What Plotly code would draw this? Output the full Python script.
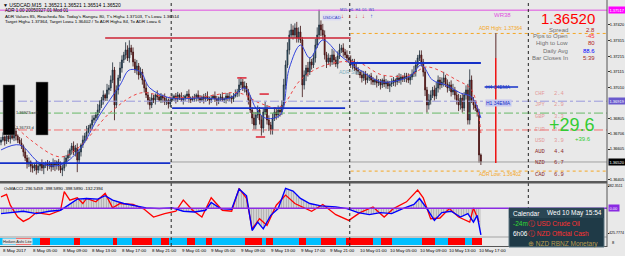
import plotly.graph_objects as go

W, H = 625, 256
def px(x): return x / W
def py(y): return 1 - y / H

# ---------------- DATA ----------------
first_open = 1.36650
closes = [
1.36664, 1.36684, 1.36658, 1.36691, 1.36671, 1.36704,
1.36677, 1.36723, 1.36691, 1.36664, 1.36645, 1.36625,
1.36586, 1.36546, 1.36507, 1.36520, 1.36493,
1.36480, 1.36500, 1.36467, 1.36493, 1.36507, 1.36480, 1.36500, 1.36513, 1.36493, 1.36507, 1.36487, 1.36513, 1.36500, 1.36520, 1.36493, 1.36467,
1.36480, 1.36520, 1.36546, 1.36566, 1.36599, 1.36625, 1.36586, 1.36612, 1.36533, 1.36586, 1.36632,
1.36664, 1.36691, 1.36717, 1.36743, 1.36763, 1.36796, 1.36809, 1.36828, 1.36861, 1.36894,
1.36927, 1.36960, 1.36940, 1.36993, 1.37006, 1.37058,
1.37124, 1.36894, 1.36993, 1.37072,
1.37137, 1.37190, 1.37223, 1.37256, 1.37203, 1.37269, 1.37242, 1.37177,
1.37124, 1.37150, 1.37091, 1.37111, 1.37058,
1.37006, 1.36960, 1.36927, 1.36894, 1.36940, 1.36927,
1.36960, 1.36947, 1.36927, 1.36953, 1.36940, 1.36914, 1.36927, 1.36901, 1.36927,
1.36940, 1.36953, 1.36934, 1.36960, 1.36947, 1.36927, 1.36940, 1.36953, 1.36966, 1.36940, 1.36927, 1.36934, 1.36947, 1.36960, 1.36940, 1.36927, 1.36947, 1.36934, 1.36953, 1.36940, 1.36927,
1.36940, 1.36953, 1.36934, 1.36920, 1.36940, 1.36947, 1.36927, 1.36934, 1.36953, 1.36940, 1.36947, 1.36934, 1.36953, 1.36966, 1.36980,
1.37026, 1.37045, 1.37006, 1.37019, 1.36980,
1.36927, 1.36861, 1.36809, 1.36763, 1.36828,
1.36861, 1.36796, 1.36743, 1.36848, 1.36874, 1.36796,
1.36763, 1.36730, 1.36809, 1.36848, 1.36828,
1.36861, 1.36848, 1.36894,
1.37026, 1.37157, 1.37256, 1.37354,
1.37387, 1.37354, 1.37400, 1.37334, 1.37374, 1.37321,
1.37026,
1.37091, 1.37137, 1.37111, 1.37177, 1.37157, 1.37203,
1.37288, 1.37354, 1.37420, 1.37387, 1.37354,
1.37223, 1.37177,
1.37203, 1.37177, 1.37223, 1.37190, 1.37164, 1.37216, 1.37256,
1.37269, 1.37242, 1.37223, 1.37203,
1.37190, 1.37157, 1.37177, 1.37137, 1.37124,
1.37111, 1.37091, 1.37072, 1.37098, 1.37058, 1.37072, 1.37085, 1.37058, 1.37045,
1.37058, 1.37039, 1.37045, 1.37026, 1.37058, 1.37032, 1.37045, 1.37019, 1.37032, 1.37039,
1.37058, 1.37045, 1.37072, 1.37058, 1.37078, 1.37065, 1.37085, 1.37072, 1.37058, 1.37078, 1.37098, 1.37111,
1.37157, 1.37203, 1.37223, 1.37177, 1.37111,
1.36993, 1.36894, 1.36927, 1.36960,
1.36993, 1.36953, 1.37006,
1.37058, 1.37026, 1.37045, 1.37072, 1.37032, 1.37006, 1.37026, 1.36980, 1.36993, 1.36960, 1.36927,
1.36894, 1.36940, 1.36874, 1.36960, 1.36993,
1.36796, 1.37058, 1.36927,
1.36894, 1.36874, 1.36848,
1.36566, 1.36520,
]
# wick extension beyond the body, in pips
hi_ext = [
2,3,1,2,4,2,1,3,2,1,2,3,1,2,2,3,1,2,1,3,
2,1,3,2,1,2,2,1,3,2,1,2,3,2,4,2,3,1,2,3,
2,3,2,1,3,2,4,2,1,3,2,2,4,3,2,3,1,4,2,3,
5,2,3,2,4,3,2,5,3,5,2,3,2,4,2,3,2,1,3,2,
2,3,2,1,3,2,2,1,3,2,1,2,3,1,2,2,1,3,2,1,
2,3,1,2,2,1,3,2,1,2,2,3,1,2,1,3,2,1,2,3,
1,2,2,3,1,2,3,2,4,3,2,3,2,2,3,2,4,2,3,2,
3,2,4,2,3,2,3,2,2,3,2,3,4,3,5,3,4,3,3,4,
3,4,2,3,2,4,3,2,3,4,5,10,3,4,3,2,3,2,4,3,
2,3,4,2,3,2,3,2,3,2,2,3,2,1,3,2,2,3,1,2,
2,1,3,2,2,1,3,2,1,2,3,2,1,2,3,2,1,2,2,3,
2,3,4,3,2,3,3,2,3,2,4,3,2,3,4,3,2,3,4,2,
3,2,3,4,2,3,4,2,3,2,3,4,7,3,2,3,2,2,1,
]
lo_ext = [
2,1,3,2,2,3,1,2,3,2,1,2,3,2,3,2,4,3,2,3,
2,3,2,4,2,3,2,3,2,4,3,3,2,4,2,3,2,2,3,2,
3,8,2,3,2,2,3,1,2,3,2,2,3,2,2,3,2,2,3,2,
2,10,2,3,2,3,2,3,2,3,2,3,2,3,3,2,3,3,2,3,
3,2,2,3,2,1,2,3,2,2,3,2,1,2,3,2,2,1,3,2,
2,3,2,1,2,3,2,2,1,3,2,2,3,2,1,2,3,2,2,1,
2,3,2,2,3,2,1,2,3,2,2,3,2,3,2,4,3,3,2,3,
5,3,2,3,4,3,3,2,3,2,3,2,2,3,2,3,2,3,2,3,
3,2,8,3,4,3,2,3,2,3,2,3,4,3,3,4,2,3,2,3,
2,3,2,2,3,2,3,2,2,3,2,3,2,2,3,2,3,2,2,3,
2,2,3,2,3,2,2,3,2,4,2,2,3,2,2,3,2,2,3,2,
3,2,2,3,2,2,3,3,4,5,3,3,2,3,2,3,3,2,3,2,
3,2,3,2,3,3,4,3,3,2,3,3,3,2,3,2,3,5,2,
]

fast_ma_bars = [0,10,21,32,42,53,64,69,75,80,91,107,123,131,137,142,150,155,161,166,173,182,193,205,220,226,232,239,247,253,258]
fast_ma_vals = [1.36599,1.36632,1.36513,1.36500,1.36599,1.36828,1.37026,1.37124,1.37111,1.37006,1.36940,1.36940,1.36940,1.37006,1.36874,1.36809,1.36828,1.37137,1.37288,1.37203,1.37321,1.37223,1.37124,1.37045,1.37085,1.37157,1.37058,1.37026,1.36973,1.36947,1.36809]
slow_ma_bars = [2,16,32,42,59,75,89,107,128,139,150,161,173,191,205,220,229,245,253,258]
slow_ma_vals = [1.36828,1.36664,1.36553,1.36618,1.36848,1.36973,1.36947,1.36947,1.36973,1.36907,1.36881,1.37058,1.37150,1.37177,1.37091,1.37091,1.37144,1.37058,1.36993,1.36710]

osc_red_bars = [0,3,5,9,12,15,19,26,32,34,37,41,44,46,51,56,60,64,71,77,82,88,94,98,103,108,113,119,124,128,132,135,139,143,148,153,158,167,173,180,187,193,200,206,211,218,224,227,231,236,241,246,252,254,257]
osc_red_vals = [197,238,52,-151,-226,-180,-75,-110,-35,284,139,180,81,168,110,255,6,81,64,-17,-151,-93,-52,139,-35,-151,180,-35,-52,342,168,-354,-180,-296,52,226,81,-52,64,-110,-209,-75,23,-151,-6,110,313,180,-180,-168,-6,-151,-238,6,-238]
osc_blue_bars = [0,5,12,19,26,32,36,41,46,52,56,60,66,72,78,85,92,98,104,110,113,118,124,128,132,135,138,141,145,149,153,157,161,166,172,180,186,192,198,204,210,216,222,225,229,233,237,242,247,251,254,256,258]
osc_blue_vals = [-93,-75,-52,-93,-52,-35,52,157,168,157,215,139,81,41,6,-6,6,-52,-64,-35,99,-6,-17,331,215,-383,-238,-354,-122,-6,342,296,168,81,41,23,-6,-75,-110,-75,-93,-6,64,168,-6,-209,-75,-52,-151,-93,-238,-122,-458]

ha_run_len = [9,8,5,5,13,3,18,2,8,11,5,4,10,4,6,3,18,9,2,4,14,4,8,8,5,15,4,6,16,7,7,9,4,5]
ha_run_dir = ['up','dn','up','dn','up','dn','up','dn','up','dn','up','dn','up','dn','up','dn','up','dn','up','dn','up','dn','up','dn','up','dn','up','dn','up','dn','up','dn','up','dn']

price_ticks = [1.37420, 1.37315, 1.37215, 1.37115, 1.37010, 1.36805, 1.36706, 1.36605, 1.36405]
osc_ticks = [382.3511, -425.7774]
osc_tick_text = ["382.3511", "-425.7774"]

time_label_bars = [0,16,32,48,64,80,96,112,128,144,160,176,192,208,224,240,256]
time_labels = ["8 May 2017","8 May 05:00","8 May 09:00","8 May 13:00","8 May 17:00","8 May 21:00",
               "9 May 01:00","9 May 05:00","9 May 09:00","9 May 13:00","9 May 17:00","9 May 21:00",
               "10 May 01:00","10 May 05:00","10 May 09:00","10 May 13:00","10 May 17:00"]
day_separators = [91.5, 187.5, 283.5]

wr38_level = 1.37517
red_level = 1.37334
adr_high_level = 1.37364
adr_low_level = 1.36460
blue_levels = [1.37170, 1.36874, 1.36513]
blue_level_spans = [(188, 258), (92, 185), (-1, 91)]
current_price = 1.36520
pivot_lavender = 1.36919
pivot_green = 1.36841
pivot_salmon = 1.36730

info_labels = ["Spread", "Pips to Open", "High to Low", "Daily Avg", "Bar Closes In"]
info_values = ["2.8", "-45", "80", "88.6", "5:39"]
currencies = ["CHF", "JPY", "GBP", "EUR", "USD", "AUD", "NZD", "CAD"]
strengths = ["2.4", "2.9", "3.3", "3.6", "3.9", "4.4", "6.7", "6.9"]

# ---------------- BUILD ----------------
n = min(len(closes), len(hi_ext), len(lo_ext))
closes = closes[:n]
bars = list(range(n))
opens = [first_open] + closes[:-1]
highs = [max(o, c) + e * 0.0001 for o, c, e in zip(opens, closes, hi_ext)]
lows = [min(o, c) - e * 0.0001 for o, c, e in zip(opens, closes, lo_ext)]

ha_colors = []
for L, d in zip(ha_run_len, ha_run_dir):
    ha_colors += ['#00BFFF' if d == 'up' else '#FF0000'] * L
ha_colors = ha_colors[:n]

FONT = "Liberation Sans, Arial, sans-serif"
BG = '#E9E9E9'
XR = [-0.54, 325.8]
XD = [0, 607 / W]
AXF = 4.0

fig = go.Figure()

fig.add_trace(go.Candlestick(
    x=bars, open=opens, high=highs, low=lows, close=closes,
    increasing=dict(line=dict(color='#1C2A36', width=0.8), fillcolor='#2E6A8A'),
    decreasing=dict(line=dict(color='#3A0E0E', width=0.8), fillcolor='#A01818'),
    whiskerwidth=0, xaxis='x', yaxis='y', showlegend=False, hoverinfo='skip'))
fig.add_trace(go.Scatter(x=slow_ma_bars, y=slow_ma_vals, mode='lines',
    line=dict(color='#EE4444', width=1, dash='dot', shape='spline'), xaxis='x', yaxis='y', showlegend=False))
fig.add_trace(go.Scatter(x=fast_ma_bars, y=fast_ma_vals, mode='lines',
    line=dict(color='#3344DD', width=1, shape='spline'), xaxis='x', yaxis='y', showlegend=False))

# oscillator
fig.add_trace(go.Scatter(x=osc_blue_bars, y=osc_blue_vals, mode='none', fill='tozeroy',
    fillcolor='rgba(190,190,190,0.45)',
    fillpattern=dict(shape='|', fgcolor='#777777', size=2.5, solidity=0.35),
    xaxis='x2', yaxis='y2', showlegend=False))
fig.add_trace(go.Scatter(x=osc_red_bars, y=osc_red_vals, mode='lines',
    line=dict(color='#FF0000', width=1.3), xaxis='x2', yaxis='y2', showlegend=False))
fig.add_trace(go.Scatter(x=osc_blue_bars, y=osc_blue_vals, mode='lines',
    line=dict(color='#0000FF', width=1.4), xaxis='x2', yaxis='y2', showlegend=False))

# Heiken Ashi strip
fig.add_trace(go.Bar(x=bars, y=[1] * n, marker=dict(color=ha_colors, line=dict(width=0)),
    width=1, xaxis='x3', yaxis='y3', showlegend=False))

shapes = []
def hline(y, x0, x1, color, width=1, dash='solid', yref='y', xref='x'):
    shapes.append(dict(type='line', xref=xref, yref=yref, x0=x0, x1=x1, y0=y, y1=y,
                       line=dict(color=color, width=width, dash=dash)))

xe = XR[1]
hline(pivot_lavender, XR[0], xe, '#9A9ADC', 1, 'dashdot')
hline(pivot_green, XR[0], xe, '#66B866', 1, 'dashdot')
hline(pivot_salmon, XR[0], xe, '#F07070', 1, 'dashdot')
hline(wr38_level, XR[0], xe, '#E050E0', 1)
hline(red_level, 56, 188, '#CC2233', 1.5)
hline(adr_high_level, 188, xe, '#F5A623', 1, 'dot')
hline(adr_low_level, 188, xe, '#F5A623', 1, 'dot')
hline(current_price, 91, xe, '#A0A0A0', 1)
for lv, (a, b) in zip(blue_levels, blue_level_spans):
    hline(lv, a, b, '#1530C8', 1.8)
# fractal marks
hline(1.37072, 127, 132, '#DD2233', 1.5)
hline(1.36966, 139, 144, '#DD2233', 1.5)
hline(1.36684, 137, 142, '#DD2233', 1.5)
# EMA label strike line
hline(1.37012, 260, 278, '#1530C8', 1.5)
# red vertical
shapes.append(dict(type='line', xref='x', yref='y', x0=266, x1=266, y0=1.37367, y1=1.37203,
                   line=dict(color='#8A6A6A', width=1.5)))
shapes.append(dict(type='line', xref='x', yref='y', x0=266, x1=266, y0=1.37203, y1=1.36513,
                   line=dict(color='#EE1111', width=1.5)))
# black rectangles
shapes.append(dict(type='rect', xref='x', yref='y', x0=1.1, x1=7.5, y0=1.36697, y1=1.37026,
                   fillcolor='#000000', line=dict(color='#888', width=0.5)))
shapes.append(dict(type='rect', xref='x', yref='y', x0=18.8, x1=25.3, y0=1.36697, y1=1.37045,
                   fillcolor='#000000', line=dict(color='#888', width=0.5)))
# oscillator zero line
hline(0, XR[0], xe, '#8A2BE2', 1.5, yref='y2', xref='x2')
# day separators
for b in day_separators:
    shapes.append(dict(type='line', xref='x', yref='paper', x0=b, x1=b, y0=py(246), y1=py(0),
                       line=dict(color='#222222', width=1, dash='dot')))
# panel separators / borders
shapes.append(dict(type='rect', xref='paper', yref='paper', x0=0, x1=px(607), y0=py(183.5), y1=py(181),
                   fillcolor='#5A5A5A', line=dict(width=0)))
shapes.append(dict(type='line', xref='paper', yref='paper', x0=0, x1=px(607), y0=py(246.5), y1=py(246.5),
                   line=dict(color='#555', width=1)))
shapes.append(dict(type='line', xref='paper', yref='paper', x0=px(607), x1=px(607), y0=py(247), y1=py(0),
                   line=dict(color='#555', width=1)))
shapes.append(dict(type='line', xref='paper', yref='paper', x0=0, x1=px(607), y0=py(237), y1=py(237),
                   line=dict(color='#777', width=0.6)))
# calendar box
shapes.append(dict(type='rect', xref='paper', yref='paper', x0=px(509), x1=px(604), y0=py(247), y1=py(208),
                   fillcolor='#1F3A47', line=dict(color='#5C7480', width=1)))
shapes.append(dict(type='rect', xref='paper', yref='paper', x0=px(509), x1=px(604), y0=py(218), y1=py(208),
                   fillcolor='#2A4654', line=dict(width=0)))

anns = []
def ann(text, x, y, size, color, xanchor='left', yanchor='middle', xref='paper', yref='paper', **kw):
    d = dict(text=text, x=px(x) if xref == 'paper' else x, y=py(y) if yref == 'paper' else y,
             xref=xref, yref=yref, xanchor=xanchor, yanchor=yanchor, showarrow=False,
             font=dict(size=size, color=color, family=kw.pop('family', FONT)), borderpad=0)
    d.update(kw)
    anns.append(d)

# top-left texts
ann("▼ USDCAD,M15  1.36521 1.36521 1.36514 1.36520", 2, 5, 5, '#000000')
ann("ADR 1.00 20050327.01 Mod 01", 4, 10.5, 4.5, '#000000')
ann("ADR Values 85, Reached= No. Today's Range= 80, T's High= 1.37103, T's Low= 1.36514", 4, 16, 4.4, '#000000')
ann("Target High= 1.37364, Target Low= 1.36402 / To ADR High= 84, To ADR Low= 6", 4, 21, 4.4, '#000000')
# rect labels
ann("1.36923 sell", 15, 112, 4, '#303030')
ann("1.36733 d", 15, 127, 4, '#303030')

# big price & info panel
ann("1.36520", 596, 18.5, 15, '#FF0000', xanchor='right')
label_y = [29.5, 36, 43, 51, 58]
val_colors = ['#B22222', '#FF3030', '#B22222', '#0000FF', '#A52A2A']
for lab, val, yy, vc in zip(info_labels, info_values, label_y, val_colors):
    ann(lab, 569, yy, 6, '#707070', xanchor='right')
    ann(val, 596, yy, 6, vc, xanchor='right')
cur_y = [93, 104, 116, 129, 140, 151, 162, 174]
cur_col = ['#E49A9A'] * 5 + ['#8B2A2A'] * 3
for c, s, yy, col in zip(currencies, strengths, cur_y, cur_col):
    ann(c, 534, yy, 5.5, col, family="Liberation Mono, monospace")
    ann(s, 553, yy, 5.5, col, family="Liberation Mono, monospace")
ann("+29.6", 596, 125, 18, '#33CC33', xanchor='right')
ann("+39.6", 592, 139, 6, '#33CC33', xanchor='right')
ann("ADR High: 1.37364", 478, 28, 5, '#F5A623')
ann("ADR Low: 1.36402", 478, 174, 5, '#F5A623')
ann("WR38", 493, 15, 6, '#E050E0')
ann("H4 34EMA", 485, 87, 5, '#1530C8')
ann("H1 34EMA", 485, 103, 5, '#1530C8', bgcolor='#C8C8F0')
ann("ADR Stat", 338, 72, 5, '#7FB0C0')
ann("USDCAD", 322, 17, 4.2, '#3040C0', bgcolor='#DCDCF4')
ann("M15  H1  H4  D1  W1", 339, 10, 3.6, '#3040C0')
for xx, col, sym in zip([342, 349, 356, 363, 371], ['#E02020'] * 4 + ['#2040E0'], ['↓'] * 4 + ['↑']):
    ann("<b>" + sym + "</b>", xx, 15.5, 6, col, xanchor='center')

# oscillator title
ann("OsMACCI -236.5459 -398.5890 -398.5890 -132.2394", 3, 188.5, 4.2, '#000000')
# strip label
ann("Heiken Ashi Lite", 2, 241, 4, '#202020', bgcolor='#E4E4E4')

# highlighted axis labels
for val, bg in [(wr38_level, '#FF00FF'), (pivot_lavender, '#6A5ACD'), (current_price, '#000000')]:
    anns.append(dict(text=f"{val:.5f}", x=px(608), y=val, xref='paper', yref='y', xanchor='left',
                     yanchor='middle', showarrow=False, bgcolor=bg, borderpad=0.5,
                     font=dict(size=AXF, color='#FFFFFF', family=FONT)))
anns.append(dict(text="0.00", x=px(608), y=0, xref='paper', yref='y2', xanchor='left', yanchor='middle',
                 showarrow=False, bgcolor='#8A2BE2', borderpad=0.5, font=dict(size=AXF, color='#FFFFFF', family=FONT)))
ann("8", 611, 242, AXF, '#000000')

# calendar texts
ann("Calendar", 512, 213, 6.5, '#FFFFFF')
ann("Wed 10 May 15:54", 603, 213, 6.5, '#FFFFFF', xanchor='right')
ann("-24m", 512, 223, 6.5, '#33DD33')
ann("ⓘ USD Crude Oil", 527, 223, 6.5, '#FF3030')
ann("6h06", 512, 233, 6.5, '#FFFFFF')
ann("ⓘ NZD Official Cash", 527, 233, 6.5, '#FF3030')
ann("⊕ NZD RBNZ Monetary", 527, 243.5, 6.5, '#B89A50')

# time labels
for b, t in zip(time_label_bars, time_labels):
    anns.append(dict(text=t, x=b, y=py(250.5), xref='x3', yref='paper', xanchor='left', yanchor='middle',
                     showarrow=False, font=dict(size=4.4, color='#000000', family=FONT)))

ax_common = dict(showgrid=False, zeroline=False, fixedrange=True)
fig.update_layout(
    width=W, height=H, margin=dict(l=0, r=0, t=0, b=0),
    paper_bgcolor=BG, plot_bgcolor=BG, showlegend=False, bargap=0,
    xaxis=dict(domain=XD, range=XR, showticklabels=False, anchor='y', rangeslider=dict(visible=False), **ax_common),
    xaxis2=dict(domain=XD, range=XR, showticklabels=False, anchor='y2', matches='x', **ax_common),
    xaxis3=dict(domain=XD, range=XR, showticklabels=False, anchor='y3', matches='x', **ax_common),
    yaxis=dict(domain=[py(181), py(3)], range=[1.36395, 1.37564], side='right', anchor='x',
               tickvals=price_ticks, tickformat='.5f', ticks='outside', ticklen=2, tickcolor='#333',
               ticklabelstandoff=-1,
               tickfont=dict(size=AXF, color='#000000', family=FONT), automargin=False, **ax_common),
    yaxis2=dict(domain=[py(237), py(184)], range=[-494.5, 416.7], side='right', anchor='x2',
                tickvals=osc_ticks, ticktext=osc_tick_text, ticks='outside', ticklen=1, tickcolor='#333',
                ticklabelstandoff=-2,
                tickfont=dict(size=3.6, color='#000000', family=FONT), automargin=False, **ax_common),
    yaxis3=dict(domain=[py(245), py(237.5)], range=[0, 1], showticklabels=False, anchor='x3', **ax_common),
    shapes=shapes, annotations=anns,
)
fig.write_html("out.html")
